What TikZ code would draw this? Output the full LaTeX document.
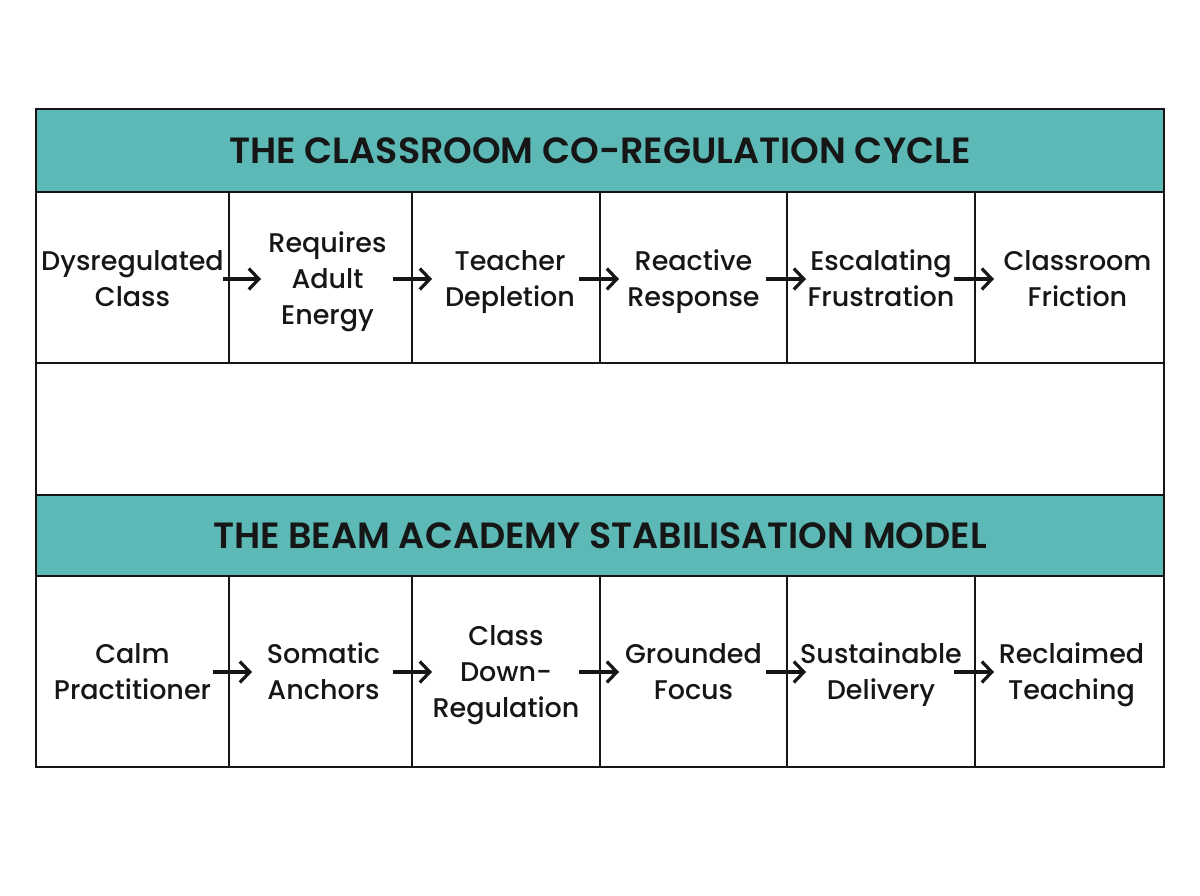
\documentclass[tikz,border=0pt]{standalone}
\usepackage{fontspec}
\setmainfont{Poppins Medium}[BoldFont={Poppins SemiBold}]
\usetikzlibrary{arrows.meta,calc}
\definecolor{teal}{RGB}{92,185,182}
\definecolor{ink}{RGB}{22,22,22}
\tikzset{
  cell/.style={draw=ink, line width=2pt, rectangle, inner sep=0pt},
  txt/.style={inner sep=0pt, align=center, font=\fontsize{27}{36}\selectfont, text=ink,
    execute at begin node=\strut, execute at end node=\strut},
  header/.style={draw=ink, line width=2pt, fill=teal, rectangle, inner sep=0pt,
    font=\fontsize{36.5}{40}\selectfont\bfseries, text=ink},
  flow/.style={draw=ink, line width=3.2pt, -{Straight Barb[length=10pt,width=21pt,line width=3.2pt]}},
}
\begin{document}
\begin{tikzpicture}[x=1pt,y=-1pt]
\useasboundingbox (0,0) rectangle (1200,896);
% outer frame
\node[cell, minimum width=1128pt, minimum height=658pt] (frame) at (600,438) {};
% headers
\node[header, minimum width=1128pt, minimum height=83pt] (h1) at (600,150.5) {THE CLASSROOM CO-REGULATION CYCLE};
\node[header, minimum width=1128pt, minimum height=81pt] (h2) at (600,535.5) {THE BEAM ACADEMY STABILISATION MODEL};
% top row cells
\node[cell, minimum width=193pt, minimum height=171pt] (a1) at (132.5,277.5) {};
\node[cell, minimum width=183pt, minimum height=171pt] (a2) at (320.5,277.5) {};
\node[cell, minimum width=188pt, minimum height=171pt] (a3) at (506,277.5) {};
\node[cell, minimum width=187pt, minimum height=171pt] (a4) at (693.5,277.5) {};
\node[cell, minimum width=188pt, minimum height=171pt] (a5) at (881,277.5) {};
\node[cell, minimum width=189pt, minimum height=171pt] (a6) at (1069.5,277.5) {};
\node[txt] (ta1) at ([yshift=-6pt]a1.center) {Dysregulated\\Class};
\node[txt] (ta2) at ([xshift=7pt,yshift=-6pt]a2.center) {Requires\\Adult\\Energy};
\node[txt] (ta3) at ([xshift=4pt,yshift=-6pt]a3.center) {Teacher\\Depletion};
\node[txt] (ta4) at ([yshift=-6pt]a4.center) {Reactive\\Response};
\node[txt] (ta5) at ([yshift=-6pt]a5.center) {Escalating\\Frustration};
\node[txt] (ta6) at ([xshift=8pt,yshift=-6pt]a6.center) {Classroom\\Friction};
% bottom row cells
\node[cell, minimum width=193pt, minimum height=191pt] (b1) at (132.5,671.5) {};
\node[cell, minimum width=183pt, minimum height=191pt] (b2) at (320.5,671.5) {};
\node[cell, minimum width=188pt, minimum height=191pt] (b3) at (506,671.5) {};
\node[cell, minimum width=187pt, minimum height=191pt] (b4) at (693.5,671.5) {};
\node[cell, minimum width=188pt, minimum height=191pt] (b5) at (881,671.5) {};
\node[cell, minimum width=189pt, minimum height=191pt] (b6) at (1069.5,671.5) {};
\node[txt] (tb1) at ([yshift=-5pt]b1.center) {Calm\\Practitioner};
\node[txt] (tb2) at ([xshift=3pt,yshift=-5pt]b2.center) {Somatic\\Anchors};
\node[txt] (tb3) at ([yshift=-5pt]b3.center) {Class\\Down-\\Regulation};
\node[txt] (tb4) at ([yshift=-5pt]b4.center) {Grounded\\Focus};
\node[txt] (tb5) at ([yshift=-5pt]b5.center) {Sustainable\\Delivery};
\node[txt] (tb6) at ([xshift=2pt,yshift=-5pt]b6.center) {Reclaimed\\Teaching};
% arrows top
\draw[flow] ($(a1.east)+(-7,1.5)$) -- ($(a2.west)+(33,1.5)$);
\draw[flow] ($(a2.east)+(-20,1.5)$) -- ($(a3.west)+(21,1.5)$);
\draw[flow] ($(a3.east)+(-22,1.5)$) -- ($(a4.west)+(20,1.5)$);
\draw[flow] ($(a4.east)+(-22,1.5)$) -- ($(a5.west)+(20,1.5)$);
\draw[flow] ($(a5.east)+(-22,1.5)$) -- ($(a6.west)+(20,1.5)$);
% arrows bottom
\draw[flow] ($(b1.east)+(-17,0.5)$) -- ($(b2.west)+(24,0.5)$);
\draw[flow] ($(b2.east)+(-20,0.5)$) -- ($(b3.west)+(21,0.5)$);
\draw[flow] ($(b3.east)+(-22,0.5)$) -- ($(b4.west)+(20,0.5)$);
\draw[flow] ($(b4.east)+(-22,0.5)$) -- ($(b5.west)+(20,0.5)$);
\draw[flow] ($(b5.east)+(-22,0.5)$) -- ($(b6.west)+(20,0.5)$);
\end{tikzpicture}
\end{document}
